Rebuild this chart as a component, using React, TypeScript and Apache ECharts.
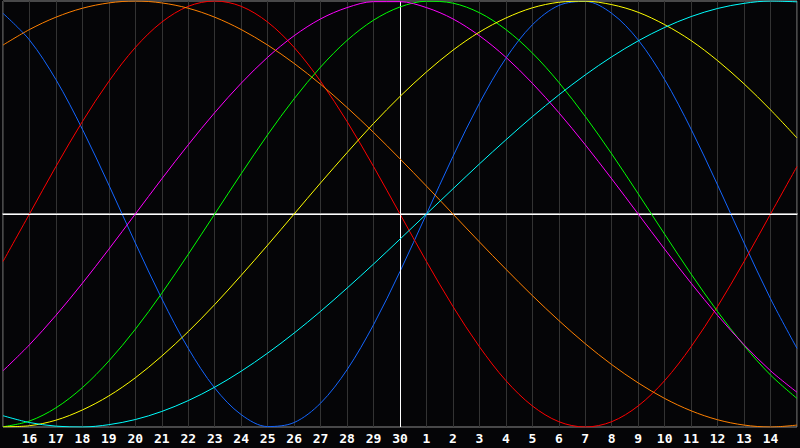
import React, { useEffect, useRef } from "react";
import * as echarts from "echarts";

// Day labels along the x axis (15th to 15th of next month)
const days: string[] = [
  "15", "16", "17", "18", "19", "20", "21", "22", "23", "24", "25", "26", "27", "28", "29", "30",
  "1", "2", "3", "4", "5", "6", "7", "8", "9", "10", "11", "12", "13", "14", "15",
];

// Cycle values (percent) read per day from the chart
const physical: number[] = [94.2, 81.7, 63.1, 39.8, 13.6, -13.6, -39.8, -63.1, -81.7, -94.2, -99.8, -97.9, -88.8, -73.1, -52.0, -27.0, 0, 27.0, 52.0, 73.1, 88.8, 97.9, 99.8, 94.2, 81.7, 63.1, 39.8, 13.6, -13.6, -39.8, -63.1];
const emotional: number[] = [-22.3, 0, 22.3, 43.4, 62.3, 78.2, 90.1, 97.5, 100, 97.5, 90.1, 78.2, 62.3, 43.4, 22.3, 0, -22.3, -43.4, -62.3, -78.2, -90.1, -97.5, -100, -97.5, -90.1, -78.2, -62.3, -43.4, -22.3, 0, 22.3];
const intellectual: number[] = [-99.9, -97.2, -91.0, -81.5, -69.0, -54.1, -37.2, -18.9, 0, 18.9, 37.2, 54.1, 69.0, 81.5, 91.0, 97.2, 99.9, 99.0, 94.5, 86.6, 75.6, 61.8, 45.8, 28.2, 9.5, -9.5, -28.2, -45.8, -61.8, -75.6, -86.6];
const intuitive: number[] = [-73.6, -61.4, -47.6, -32.5, -16.5, 0, 16.5, 32.5, 47.6, 61.4, 73.6, 83.7, 91.6, 96.9, 99.7, 99.7, 96.9, 91.6, 83.7, 73.6, 61.4, 47.6, 32.5, 16.5, 0, -16.5, -32.5, -47.6, -61.4, -73.6, -83.7];
const aesthetic: number[] = [-99.9, -99.4, -96.8, -92.0, -85.4, -76.9, -66.7, -55.2, -42.5, -28.8, -14.6, 0, 14.6, 28.8, 42.5, 55.2, 66.7, 76.9, 85.4, 92.0, 96.8, 99.4, 99.9, 98.3, 94.7, 88.9, 81.4, 72.0, 61.1, 48.9, 35.7];
const awareness: number[] = [79.3, 86.6, 92.4, 96.6, 99.1, 100, 99.1, 96.6, 92.4, 86.6, 79.3, 70.7, 60.9, 50, 38.3, 25.9, 13.1, 0, -13.1, -25.9, -38.3, -50, -60.9, -70.7, -79.3, -86.6, -92.4, -96.6, -99.1, -100, -99.1];
const spiritual: number[] = [-94.7, -97.9, -99.6, -100, -98.9, -96.5, -92.7, -87.6, -81.3, -73.8, -65.3, -55.9, -45.7, -34.8, -23.5, -11.8, 0, 11.8, 23.5, 34.8, 45.7, 55.9, 65.3, 73.8, 81.3, 87.6, 92.7, 96.5, 98.9, 100, 99.6];

const seriesNames: string[] = ["Physical", "Emotional", "Intellectual", "Intuitive", "Aesthetic", "Awareness", "Spiritual"];
const seriesData: number[][] = [physical, emotional, intellectual, intuitive, aesthetic, awareness, spiritual];
const seriesColors: string[] = ["#1466ff", "#ff0000", "#00ff00", "#ff00ff", "#ffff00", "#ff8000", "#00ffff"];

const todayIndex = 15;

export default function App() {
  const ref = useRef<HTMLDivElement>(null);

  useEffect(() => {
    document.body.style.margin = "0";
    if (!ref.current) return;
    const chart = echarts.init(ref.current, undefined, { renderer: "svg" });

    const series: any[] = seriesData.map((d, i) => ({
      name: seriesNames[i],
      type: "line",
      data: d,
      smooth: 0.33,
      symbol: "none",
      lineStyle: { color: seriesColors[i], width: 1 },
      z: 3 + i,
    }));

    series.push({
      name: "refs",
      type: "line",
      data: [],
      silent: true,
      z: 2,
      markLine: {
        silent: true,
        symbol: "none",
        label: { show: false },
        lineStyle: { color: "#ffffff", width: 1, type: "solid" },
        data: [{ yAxis: 0 }, { xAxis: todayIndex }],
      },
    });

    chart.setOption({
      animation: false,
      backgroundColor: "#050507",
      grid: {
        left: 1,
        right: 1,
        top: 1,
        bottom: 21,
        show: true,
        borderColor: "#8c8c8c",
        borderWidth: 1,
        backgroundColor: "transparent",
      },
      xAxis: {
        type: "category",
        data: days,
        boundaryGap: false,
        axisLine: { show: true, lineStyle: { color: "#9a9a9a", width: 2 } },
        axisTick: { show: false },
        splitLine: { show: true, interval: 0, lineStyle: { color: "#333333", width: 1 } },
        axisLabel: {
          interval: 0,
          color: "#ffffff",
          fontFamily: "DejaVu Sans Mono",
          fontWeight: "bold",
          fontSize: 13,
          margin: 5,
          formatter: (v: string, idx: number) => (idx === 0 || idx === days.length - 1 ? "" : v),
        },
      },
      yAxis: {
        type: "value",
        min: -100,
        max: 100,
        show: false,
        splitLine: { show: false },
      },
      series,
    });

    return () => chart.dispose();
  }, []);

  return <div ref={ref} style={{ width: 800, height: 448 }} />;
}
